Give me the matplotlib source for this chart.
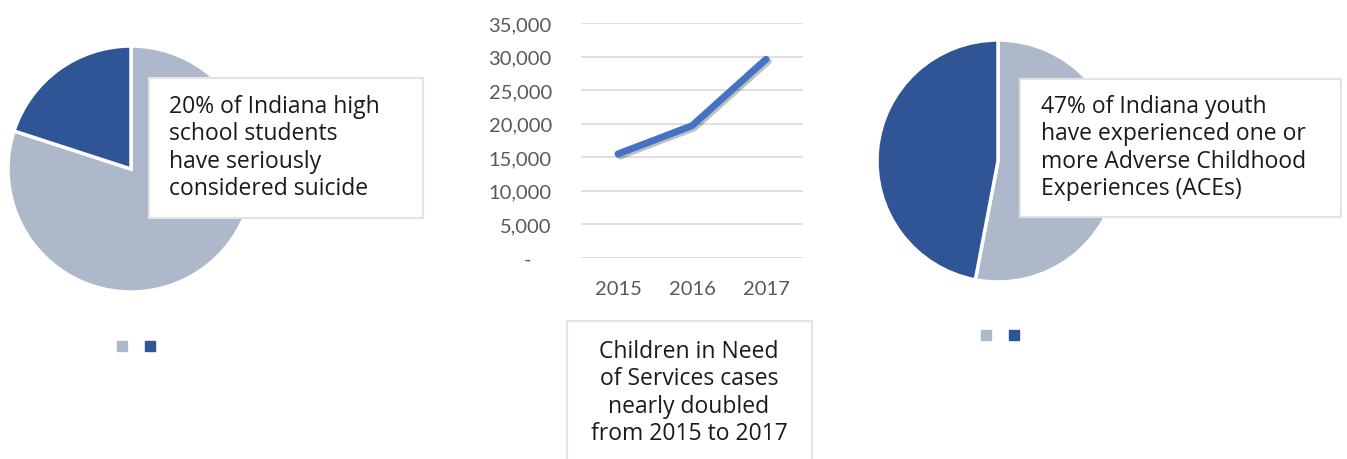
import matplotlib.pyplot as plt
import matplotlib.patheffects as pe
from matplotlib.patches import Rectangle
from matplotlib.lines import Line2D
from matplotlib.ticker import FuncFormatter

# datos
suicidio = [80, 20]
aces = [53, 47]
anios = ['2015', '2016', '2017']
casos_chins = [15500, 19700, 29600]
yticks = [0, 5000, 10000, 15000, 20000, 25000, 30000, 35000]

texto_izq = "20% of Indiana high\nschool students\nhave seriously\nconsidered suicide"
texto_der = "47% of Indiana youth\nhave experienced one or\nmore Adverse Childhood\nExperiences (ACEs)"
texto_centro = "Children in Need\nof Services cases\nnearly doubled\nfrom 2015 to 2017"

claro = '#ADB9CA'
oscuro = '#2F5597'
linea = '#4472C4'

W, H = 1347, 460
fig = plt.figure(figsize=(W / 100, H / 100), dpi=100)


def px_axes(x0, y0, x1, y1):
    # coordenadas en pixeles desde arriba a la izquierda
    return fig.add_axes([x0 / W, 1 - y1 / H, (x1 - x0) / W, (y1 - y0) / H])


def caja(x0, y0, x1, y1):
    fig.patches.append(Rectangle((x0 / W, 1 - y1 / H), (x1 - x0) / W, (y1 - y0) / H,
                                 transform=fig.transFigure, facecolor='white',
                                 edgecolor='#E3E3E3', linewidth=1.5, zorder=5))


def leyenda(ax, x, y):
    handles = [Line2D([], [], marker='s', linestyle='none', markersize=6.5,
                      markerfacecolor=c, markeredgecolor=c) for c in (claro, oscuro)]
    ax.legend(handles, ['', ''], ncol=2, frameon=False, handlelength=0.6,
              columnspacing=0.8, handletextpad=0.6,
              loc='center', bbox_to_anchor=(x / W, 1 - y / H),
              bbox_transform=fig.transFigure)


def pastel(valores, cx, cy, r):
    ax = px_axes(cx - r, cy - r, cx + r, cy + r)
    ax.pie(valores, colors=[claro, oscuro], startangle=90, counterclock=False,
           radius=1, wedgeprops=dict(edgecolor='white', linewidth=2.5))
    ax.set_xlim(-1, 1)
    ax.set_ylim(-1, 1)
    ax.set_aspect('equal')
    ax.axis('off')
    return ax


fuente_caja = dict(fontsize=16.5, family='Open Sans', color='#1A1A1A', linespacing=1.2, zorder=6)

# pastel izquierdo
ax1 = pastel(suicidio, 131, 170, 123)
leyenda(ax1, 140, 348)
caja(149, 79, 423, 219)
fig.text(169 / W, 1 - 148 / H, texto_izq, ha='left', va='center', **fuente_caja)

# pastel derecho
ax3 = pastel(aces, 998, 162, 121)
leyenda(ax3, 1004, 337)
caja(1020, 80, 1341, 218)
fig.text(1041 / W, 1 - 148 / H, texto_der, ha='left', va='center', **fuente_caja)

# linea central
ax2 = px_axes(581, 24, 803, 259)
x = range(len(anios))
ax2.plot(x, casos_chins, color=linea, linewidth=5, solid_capstyle='round',
         path_effects=[pe.SimpleLineShadow(offset=(1.5, -1.5), alpha=0.25), pe.Normal()])
ax2.set_xlim(-0.5, len(anios) - 0.5)
ax2.set_ylim(0, 35000)
ax2.set_xticks(list(x))
ax2.set_xticklabels(anios)
ax2.set_yticks(yticks)
ax2.yaxis.set_major_formatter(FuncFormatter(lambda v, p: '-    ' if v == 0 else f'{v:,.0f}'))
ax2.grid(axis='y', color='#D9D9D9', linewidth=1.2)
ax2.set_axisbelow(True)
for s in ax2.spines.values():
    s.set_visible(False)
ax2.tick_params(length=0, labelsize=14.5, labelcolor='#595959')
ax2.tick_params(axis='y', pad=21)
ax2.tick_params(axis='x', pad=16)
for lab in ax2.get_xticklabels() + ax2.get_yticklabels():
    lab.set_family('Lato')

caja(567, 322, 812, 470)
fig.text(689 / W, 1 - 393 / H, texto_centro, ha='center', va='center',
         multialignment='center', **fuente_caja)

fig.savefig('out.png', dpi=100)
